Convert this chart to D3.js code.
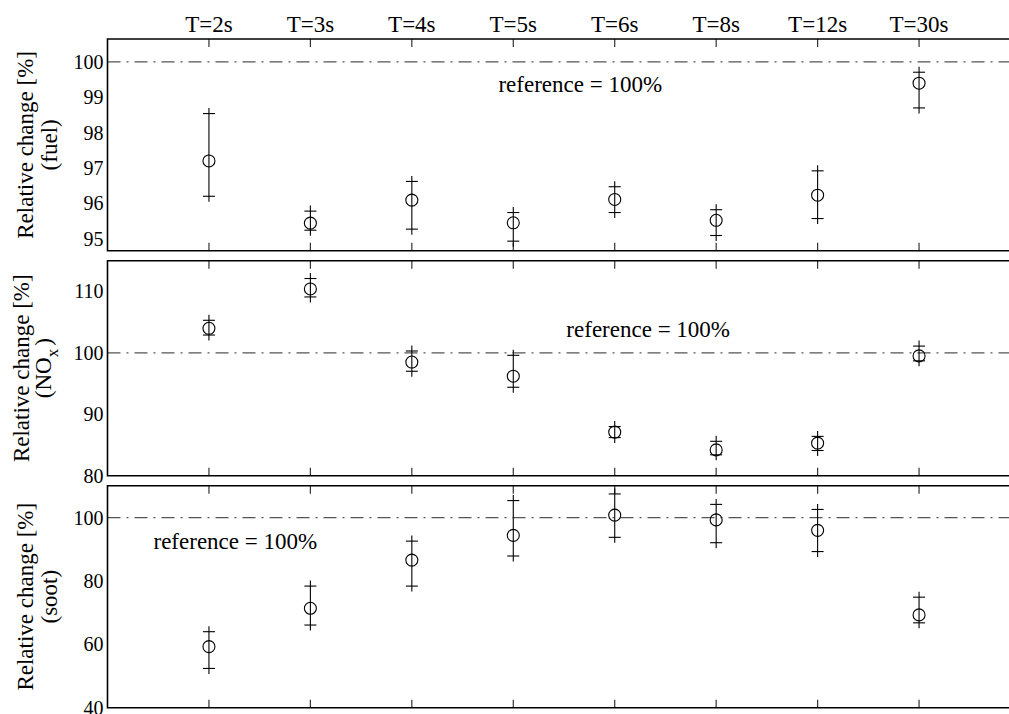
<!DOCTYPE html>
<html>
<head>
<meta charset="utf-8">
<script src="https://cdn.jsdelivr.net/npm/d3@7"></script>
<style>
  body { margin: 0; background: #fff; }
  svg { display: block; }
</style>
</head>
<body>
<div id="chart"></div>
<script>
/* DATA */
const categories = ["T=2s", "T=3s", "T=4s", "T=5s", "T=6s", "T=8s", "T=12s", "T=30s"];

const fuelMean = [97.2, 95.44, 96.09, 95.45, 96.11, 95.52, 96.23, 99.4];
const fuelLow  = [96.2, 95.24, 95.27, 94.93, 95.74, 95.09, 95.57, 98.7];
const fuelHigh = [98.54, 95.78, 96.62, 95.74, 96.47, 95.82, 96.92, 99.71];

const noxMean = [104.0, 110.4, 98.5, 96.2, 87.1, 84.2, 85.3, 99.5];
const noxLow  = [102.9, 109.1, 97.0, 94.4, 86.2, 83.4, 84.1, 98.7];
const noxHigh = [105.3, 112.1, 100.3, 99.6, 88.0, 85.6, 86.4, 101.1];

const sootMean = [59.3, 71.4, 86.6, 94.4, 100.8, 99.3, 96.0, 69.3];
const sootLow  = [52.4, 66.1, 78.4, 87.9, 93.8, 92.1, 89.3, 66.8];
const sootHigh = [64.0, 78.4, 92.6, 105.4, 107.5, 104.2, 102.6, 74.9];

const fuelTicks = [95, 96, 97, 98, 99, 100];
const noxTicks = [80, 90, 100, 110];
const sootTicks = [40, 60, 80, 100];

const referenceValue = 100;
const referenceText = "reference = 100%";

/* LAYOUT */
const width = 1009, height = 714;
const left = 107.5, right = 1020.5;
const serif = "Liberation Serif";

const panels = [
  { name: "fuel", mean: fuelMean, low: fuelLow, high: fuelHigh, ticks: fuelTicks,
    domain: [94.66, 100.65], top: 39, bottom: 250.7,
    labelAt: [4.66, 99.15], line1X: 33, line2X: 57 },
  { name: "nox", mean: noxMean, low: noxLow, high: noxHigh, ticks: noxTicks,
    domain: [80, 115], top: 260.7, bottom: 475.7,
    labelAt: [5.33, 102.6], line1X: 29, line2X: 51 },
  { name: "soot", mean: sootMean, low: sootLow, high: sootHigh, ticks: sootTicks,
    domain: [40, 110.1], top: 485.7, bottom: 707.7,
    labelAt: [1.26, 90.1], line1X: 33, line2X: 57 }
];

const svg = d3.select("#chart").append("svg")
  .attr("width", width)
  .attr("height", height);

const x = d3.scaleLinear().domain([0, categories.length + 1]).range([left, right]);
const xi = i => x(i + 1);

// header labels above the first panel
svg.append("g")
  .selectAll("text")
  .data(categories)
  .join("text")
  .attr("x", (d, i) => xi(i))
  .attr("y", 32)
  .attr("text-anchor", "middle")
  .style("font-family", serif)
  .style("font-size", "23px")
  .text(d => d);

const plus = 5.5;

panels.forEach(p => {
  const y = d3.scaleLinear().domain(p.domain).range([p.bottom, p.top]);
  const g = svg.append("g").attr("class", "panel-" + p.name);

  // reference line
  g.append("line")
    .attr("x1", left).attr("x2", right)
    .attr("y1", y(referenceValue)).attr("y2", y(referenceValue))
    .attr("stroke", "#555")
    .attr("stroke-width", 1.2)
    .attr("stroke-dasharray", "13,6,2,6");

  // inward x ticks, top and bottom
  g.selectAll("line.tick-top")
    .data(categories)
    .join("line")
    .attr("class", "tick-top")
    .attr("x1", (d, i) => xi(i)).attr("x2", (d, i) => xi(i))
    .attr("y1", p.top).attr("y2", p.top + 8)
    .attr("stroke", "#333").attr("stroke-width", 1.2);
  g.selectAll("line.tick-bot")
    .data(categories)
    .join("line")
    .attr("class", "tick-bot")
    .attr("x1", (d, i) => xi(i)).attr("x2", (d, i) => xi(i))
    .attr("y1", p.bottom).attr("y2", p.bottom - 8)
    .attr("stroke", "#333").attr("stroke-width", 1.2);

  // y axis labels
  const yAxis = d3.axisLeft(y).tickValues(p.ticks).tickFormat(d3.format("d"))
    .tickSize(0).tickPadding(4);
  g.append("g")
    .attr("transform", `translate(${left},0)`)
    .call(yAxis)
    .call(a => a.select(".domain").remove())
    .call(a => a.selectAll("text")
      .attr("fill", "#000")
      .style("font-family", serif)
      .style("font-size", "20px"));

  // frame: left, top, bottom
  g.append("path")
    .attr("d", `M${right},${p.top}H${left}V${p.bottom}H${right}`)
    .attr("fill", "none")
    .attr("stroke", "#000")
    .attr("stroke-width", 1.6);

  // error bars
  const rows = categories.map((c, i) => ({ c, i, m: p.mean[i], lo: p.low[i], hi: p.high[i] }));
  const eg = g.selectAll("g.err").data(rows).join("g").attr("class", "err");
  eg.append("line")
    .attr("x1", d => xi(d.i)).attr("x2", d => xi(d.i))
    .attr("y1", d => y(d.hi) - plus).attr("y2", d => y(d.lo) + plus)
    .attr("stroke", "#000").attr("stroke-width", 1.1);
  ["lo", "hi"].forEach(k => {
    eg.append("line")
      .attr("x1", d => xi(d.i) - plus - 0.5).attr("x2", d => xi(d.i) + plus + 0.5)
      .attr("y1", d => y(d[k])).attr("y2", d => y(d[k]))
      .attr("stroke", "#000").attr("stroke-width", 1.1);
  });
  eg.append("circle")
    .attr("cx", d => xi(d.i))
    .attr("cy", d => y(d.m))
    .attr("r", 6)
    .attr("fill", "none")
    .attr("stroke", "#000")
    .attr("stroke-width", 1.1);

  // reference annotation
  g.append("text")
    .attr("x", x(p.labelAt[0]))
    .attr("y", y(p.labelAt[1]))
    .attr("text-anchor", "middle")
    .style("font-family", serif)
    .style("font-size", "23px")
    .text(referenceText);

  // y title
  const cy = (p.top + p.bottom) / 2;
  g.append("text")
    .attr("transform", `translate(${p.line1X},${cy}) rotate(-90)`)
    .attr("text-anchor", "middle")
    .style("font-family", serif)
    .style("font-size", "23px")
    .text("Relative change [%]");
  const t2 = g.append("text")
    .attr("transform", `translate(${p.line2X},${cy}) rotate(-90)`)
    .attr("text-anchor", "middle")
    .style("font-family", serif)
    .style("font-size", "23px");
  if (p.name === "nox") {
    t2.append("tspan").text("(NO");
    t2.append("tspan").attr("dy", 7).style("font-size", "17px").text("x");
    t2.append("tspan").attr("dy", -7).attr("dx", 3).text(")");
  } else {
    t2.text("(" + p.name + ")");
  }
});
</script>
</body>
</html>
